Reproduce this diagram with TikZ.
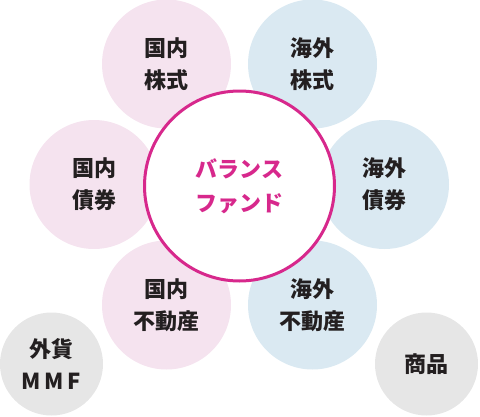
\documentclass[tikz,border=0pt]{standalone}
\usepackage{fontspec}
\newfontfamily\jpfont{Noto Sans CJK JP Black}
\definecolor{bfpink}{HTML}{F5E3EF}
\definecolor{bfblue}{HTML}{DAE9F2}
\definecolor{bfgray}{HTML}{E6E6E6}
\definecolor{bfmagenta}{HTML}{D7288C}
\definecolor{bfink}{HTML}{231F20}
\begin{document}
\begin{tikzpicture}[
  x=1pt, y=-1pt,
  bfball/.style = {circle, minimum size=129pt, inner sep=0pt},
  bfdom/.style = {bfball, fill=bfpink},
  bfabr/.style = {bfball, fill=bfblue},
  bfother/.style = {circle, minimum size=103pt, inner sep=0pt, fill=bfgray},
  bfcore/.style = {circle, minimum size=190pt, inner sep=0pt, fill=white,
    draw=bfmagenta, line width=3pt},
  bflbl/.style = {align=center, text=bfink,
    font=\jpfont\fontsize{22}{32}\selectfont},
  bfcorelbl/.style = {align=center, text=bfmagenta,
    font=\jpfont\fontsize{22}{34}\selectfont}
]
  \useasboundingbox (0,0) rectangle (480,416);
  % 周りの資産クラス
  \node[bfdom] (dstock) at (166.5,64) {};
  \node[bfabr] (fstock) at (312.5,64) {};
  \node[bfdom] (dbond) at (94,184.5) {};
  \node[bfabr] (fbond) at (384.5,184.5) {};
  \node[bfdom] (dreit) at (166.5,305) {};
  \node[bfabr] (freit) at (312.5,305) {};
  \node[bfother] (mmf) at (51.5,364) {};
  \node[bfother] (cmdty) at (426.5,364) {};
  % 中心
  \node[bfcore] (core) at (239.5,186) {};
  % ラベル
  \node[bflbl] at (dstock) {国内\\株式};
  \node[bflbl] at (fstock) {海外\\株式};
  \node[bflbl] at (dbond) {国内\\債券};
  \node[bflbl] at (fbond) {海外\\債券};
  \node[bflbl] at (dreit) {国内\\不動産};
  \node[bflbl] at (freit) {海外\\不動産};
  \node[bflbl] at (mmf) {外貨\\M\,M\,F};
  \node[bflbl] at (cmdty) {商品};
  \node[bfcorelbl] at (core) {バランス\\ファンド};
\end{tikzpicture}
\end{document}
